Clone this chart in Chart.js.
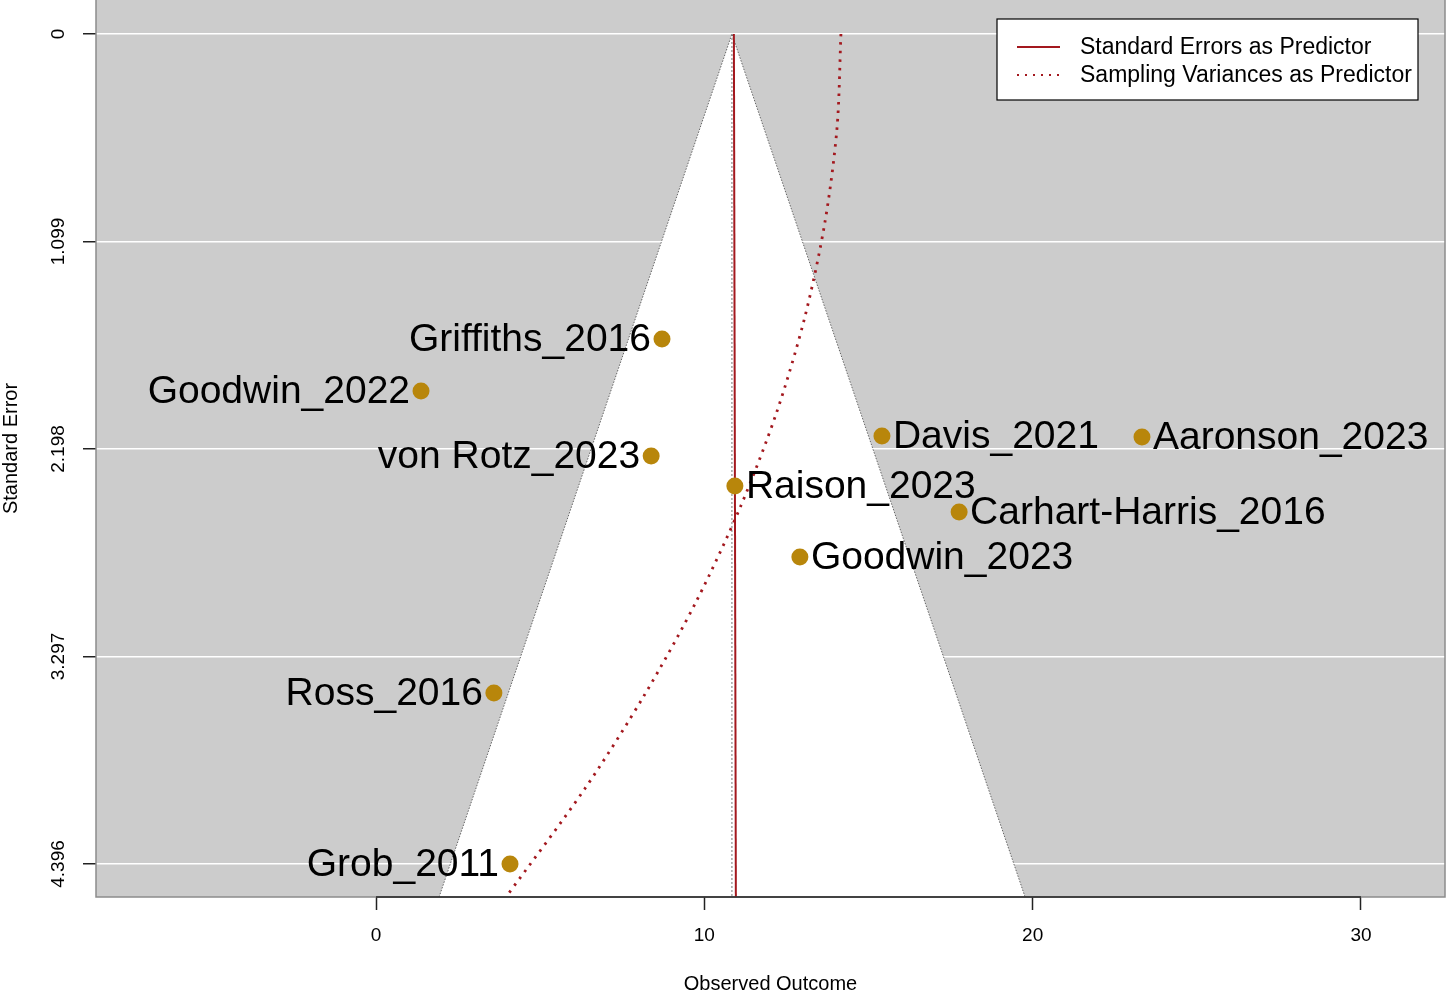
<!DOCTYPE html>
<html>
<head>
<meta charset="utf-8">
<title>Funnel plot</title>
<script src="https://cdn.jsdelivr.net/npm/chart.js@4.4.1/dist/chart.umd.min.js"></script>
<style>
  html, body { margin: 0; padding: 0; background: #ffffff; }
  #wrap { width: 1447px; height: 992px; }
</style>
</head>
<body>
<div id="wrap"><canvas id="funnel" width="1447" height="992"></canvas></div>
<script>
// Estudos e valores
const studies = ['Griffiths_2016', 'Goodwin_2022', 'von Rotz_2023', 'Davis_2021', 'Aaronson_2023',
                 'Raison_2023', 'Carhart-Harris_2016', 'Goodwin_2023', 'Ross_2016', 'Grob_2011'];
const effects = [8.71, 1.37, 8.38, 15.41, 23.33, 10.93, 17.76, 12.91, 3.59, 4.08];
const stdErrors = [1.615, 1.891, 2.235, 2.129, 2.134, 2.394, 2.532, 2.770, 3.490, 4.396];

// Funil (pseudo-intervalo de confiança)
const funnelX = [1.92, 10.84, 19.77];
const funnelSE = [4.571, 0, 4.571];
const refX = [10.84, 10.84];
const refSE = [0, 4.571];

// Linhas de regressão
const seLineX = [10.90, 10.96];
const seLineSE = [0, 4.571];
const varLineX = [14.16, 14.04, 13.67, 13.06, 12.21, 11.11, 9.77, 8.18, 6.35, 3.96];
const varLineSE = [0, 0.5, 1.0, 1.5, 2.0, 2.5, 3.0, 3.5, 4.0, 4.571];

// Eixos
const xTicks = [0, 10, 20, 30];
const yTicks = [0, 1.099, 2.198, 3.297, 4.396];
const yTickLabels = ['0', '1.099', '2.198', '3.297', '4.396'];
const xRange = [-8.53, 32.56];
const yRange = [-0.18, 4.571];

const legendItems = ['Standard Errors as Predictor', 'Sampling Variances as Predictor'];

const FONT = '"Liberation Sans", Arial, sans-serif';
const RED = '#a3181e';
const pairs = (xs, ys) => xs.map((x, i) => ({ x: x, y: ys[i] }));

const decor = {
    id: 'decor',
    beforeDraw(chart) {
        const { ctx, chartArea: a } = chart;
        ctx.save();
        ctx.fillStyle = '#cccccc';
        ctx.fillRect(a.left, a.top, a.right - a.left, a.bottom - a.top);
        ctx.restore();
    },
    afterDatasetsDraw(chart) {
        const { ctx } = chart;
        const xs = chart.scales.x, ys = chart.scales.y;
        const center = refX[0];
        ctx.save();
        ctx.font = '39px ' + FONT;
        ctx.fillStyle = '#000';
        ctx.textBaseline = 'middle';
        studies.forEach((name, i) => {
            const px = xs.getPixelForValue(effects[i]);
            const py = ys.getPixelForValue(stdErrors[i]);
            if (effects[i] < center) {
                ctx.textAlign = 'right';
                ctx.fillText(name, px - 11, py + 1);
            } else {
                ctx.textAlign = 'left';
                ctx.fillText(name, px + 11, py + 1);
            }
        });
        ctx.restore();
    },
    afterDraw(chart) {
        const { ctx, chartArea: a } = chart;
        const xs = chart.scales.x, ys = chart.scales.y;
        ctx.save();
        // caixa da área do gráfico
        ctx.strokeStyle = '#8c8c8c';
        ctx.lineWidth = 1.5;
        ctx.strokeRect(a.left, a.top - 2, a.right - a.left, a.bottom - a.top + 2);
        // linha do eixo x (somente entre os ticks)
        ctx.strokeStyle = '#222';
        ctx.lineWidth = 1.5;
        ctx.beginPath();
        ctx.moveTo(xs.getPixelForValue(xTicks[0]), a.bottom);
        ctx.lineTo(xs.getPixelForValue(xTicks[xTicks.length - 1]), a.bottom);
        ctx.stroke();

        // rótulos dos ticks
        ctx.fillStyle = '#000';
        ctx.font = '19px ' + FONT;
        ctx.textAlign = 'center';
        ctx.textBaseline = 'middle';
        xTicks.forEach(v => ctx.fillText(String(v), xs.getPixelForValue(v), a.bottom + 39));
        yTicks.forEach((v, i) => {
            ctx.save();
            ctx.translate(a.left - 37, ys.getPixelForValue(v));
            ctx.rotate(-Math.PI / 2);
            ctx.fillText(yTickLabels[i], 0, 0);
            ctx.restore();
        });

        // títulos dos eixos
        ctx.font = '20px ' + FONT;
        ctx.fillText('Observed Outcome', (a.left + a.right) / 2, a.bottom + 87);
        ctx.save();
        ctx.translate(a.left - 85, (a.top + a.bottom) / 2);
        ctx.rotate(-Math.PI / 2);
        ctx.fillText('Standard Error', 0, 0);
        ctx.restore();

        // legenda
        const lx = 997, ly = 19, lw = 421, lh = 81;
        ctx.fillStyle = '#fff';
        ctx.fillRect(lx, ly, lw, lh);
        ctx.strokeStyle = '#000';
        ctx.lineWidth = 1.2;
        ctx.strokeRect(lx, ly, lw, lh);
        ctx.strokeStyle = RED;
        ctx.lineWidth = 2;
        ctx.beginPath();
        ctx.moveTo(lx + 20, ly + 28);
        ctx.lineTo(lx + 63, ly + 28);
        ctx.stroke();
        ctx.setLineDash([2, 6]);
        ctx.beginPath();
        ctx.moveTo(lx + 20, ly + 56);
        ctx.lineTo(lx + 63, ly + 56);
        ctx.stroke();
        ctx.setLineDash([]);
        ctx.fillStyle = '#000';
        ctx.font = '23px ' + FONT;
        ctx.textAlign = 'left';
        ctx.fillText(legendItems[0], lx + 83, ly + 29);
        ctx.fillText(legendItems[1], lx + 83, ly + 57);
        ctx.restore();
    }
};

new Chart(document.getElementById('funnel'), {
    type: 'scatter',
    data: {
        datasets: [
            {
                label: 'studies',
                data: pairs(effects, stdErrors),
                backgroundColor: '#b8860b',
                borderWidth: 0,
                pointRadius: 8.5,
                order: 1
            },
            {
                label: legendItems[1],
                data: pairs(varLineX, varLineSE),
                showLine: true,
                borderColor: RED,
                borderWidth: 2.8,
                borderDash: [2.5, 6],
                tension: 0.3,
                pointRadius: 0,
                order: 2
            },
            {
                label: legendItems[0],
                data: pairs(seLineX, seLineSE),
                showLine: true,
                borderColor: RED,
                borderWidth: 2,
                pointRadius: 0,
                order: 3
            },
            {
                label: 'ref',
                data: pairs(refX, refSE),
                showLine: true,
                borderColor: '#777',
                borderWidth: 1,
                borderDash: [2, 2],
                pointRadius: 0,
                order: 4
            },
            {
                label: 'funnel',
                data: pairs(funnelX, funnelSE),
                showLine: true,
                borderColor: '#666',
                borderWidth: 1,
                borderDash: [1.5, 1.5],
                backgroundColor: '#ffffff',
                fill: { value: yRange[1] },
                pointRadius: 0,
                order: 5
            }
        ]
    },
    options: {
        responsive: false,
        animation: false,
        layout: { autoPadding: false, padding: { left: 83, right: 2, top: 0, bottom: 82 } },
        plugins: {
            legend: { display: false },
            tooltip: { enabled: false }
        },
        scales: {
            x: {
                type: 'linear',
                min: xRange[0],
                max: xRange[1],
                afterBuildTicks: (scale) => { scale.ticks = xTicks.map(v => ({ value: v })); },
                ticks: { display: false },
                border: { display: false },
                grid: { drawOnChartArea: false, tickLength: 13, tickColor: '#222', tickWidth: 1.5 }
            },
            y: {
                type: 'linear',
                reverse: true,
                min: yRange[0],
                max: yRange[1],
                afterBuildTicks: (scale) => { scale.ticks = yTicks.map(v => ({ value: v })); },
                ticks: { display: false },
                border: { display: false },
                grid: { color: '#ffffff', lineWidth: 1.5, tickLength: 13, tickColor: '#222', tickWidth: 1.5 }
            }
        }
    },
    plugins: [decor]
});
</script>
</body>
</html>
